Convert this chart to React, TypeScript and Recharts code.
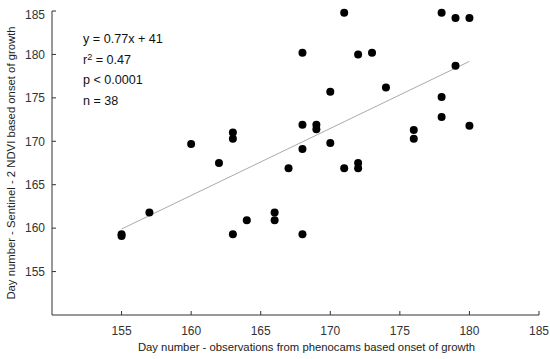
import { ScatterChart, Scatter, XAxis, YAxis, ReferenceLine, Label } from 'recharts';

// phenocam onset (x) vs Sentinel-2 NDVI onset (y), day numbers
const phenocamDay = [
  171, 178, 179, 180, 168, 172, 173, 179, 170, 174, 178, 178,
  168, 169, 169, 180, 176, 176, 168, 170, 167, 171, 172, 172,
  160, 162, 163, 163, 155, 155, 157, 163, 164, 166, 166, 168,
];
const sentinelDay = [
  184.8, 184.8, 184.2, 184.2, 180.2, 180.0, 180.2, 178.7, 175.7, 176.2, 175.1, 172.8,
  171.9, 171.9, 171.4, 171.8, 171.3, 170.3, 169.1, 169.8, 166.9, 166.9, 167.5, 166.9,
  169.7, 167.5, 171.0, 170.3, 159.3, 159.1, 161.8, 159.3, 160.9, 161.8, 160.9, 159.3,
];

// fitted line end points
const fitX = [155, 180];
const fitY = [159.9, 179.2];

const xTicks = [155, 160, 165, 170, 175, 180, 185];
const yTicks = [155, 160, 165, 170, 175, 180, 185];

const statLines = ['y = 0.77x + 41', 'r2', 'p < 0.0001', 'n = 38'];

const points = phenocamDay.map((d, i) => ({ x: d, y: sentinelDay[i] }));

const font = '"Liberation Sans", Arial, sans-serif';
const axisColor = '#333';

// y tick label; the top one is nudged down so it isn't cut off
const YTick = (props: any) => {
  const shift = props.payload.value === 185 ? 4 : 0;
  return (
    <text x={props.x} y={props.y + shift} dy="0.355em" textAnchor="end" fill="#333" fontSize={12} fontFamily={font}>
      {props.payload.value}
    </text>
  );
};

export default function App() {
  return (
    <div style={{ position: 'absolute', left: 0, top: 0, width: 550, height: 359, background: '#fff', fontFamily: font }}>
      <ScatterChart width={550} height={359} margin={{ top: 11, right: 11, bottom: 0, left: 0 }}>
        <XAxis
          type="number"
          dataKey="x"
          domain={[150, 185]}
          ticks={xTicks}
          height={44}
          stroke={axisColor}
          tickSize={-4}
          tickMargin={15}
          tick={{ fill: '#333', fontSize: 12, fontFamily: font }}
        >
          <Label
            value="Day number - observations from phenocams based onset of growth"
            position="insideBottom"
            offset={8}
            dx={11}
            style={{ fill: '#222', fontSize: 11.3, fontFamily: font }}
          />
        </XAxis>
        <YAxis
          type="number"
          dataKey="y"
          domain={[150, 185]}
          ticks={yTicks}
          width={52}
          stroke={axisColor}
          tickSize={-4}
          tickMargin={11}
          tick={YTick}
        >
          <Label
            value="Day number - Sentinel - 2 NDVI based onset of growth"
            angle={-90}
            position="insideLeft"
            offset={11}
            style={{ textAnchor: 'middle', fill: '#222', fontSize: 11.3, fontFamily: font }}
          />
        </YAxis>
        <ReferenceLine
          segment={[{ x: fitX[0], y: fitY[0] }, { x: fitX[1], y: fitY[1] }]}
          stroke="#aaa"
          strokeWidth={1}
        />
        <Scatter data={points} fill="#000" isAnimationActive={false} shape={(p: any) => <circle cx={p.cx} cy={p.cy} r={4} fill="#000" />} />
      </ScatterChart>
      <div style={{ position: 'absolute', left: 83, top: 29, fontSize: 12.6, color: '#111', lineHeight: '20.5px' }}>
        {statLines.map((t) =>
          t === 'r2' ? (
            <div key={t}>
              r<sup style={{ fontSize: 9, verticalAlign: 'top', lineHeight: '14px' }}>2</sup> = 0.47
            </div>
          ) : (
            <div key={t}>{t}</div>
          )
        )}
      </div>
    </div>
  );
}
